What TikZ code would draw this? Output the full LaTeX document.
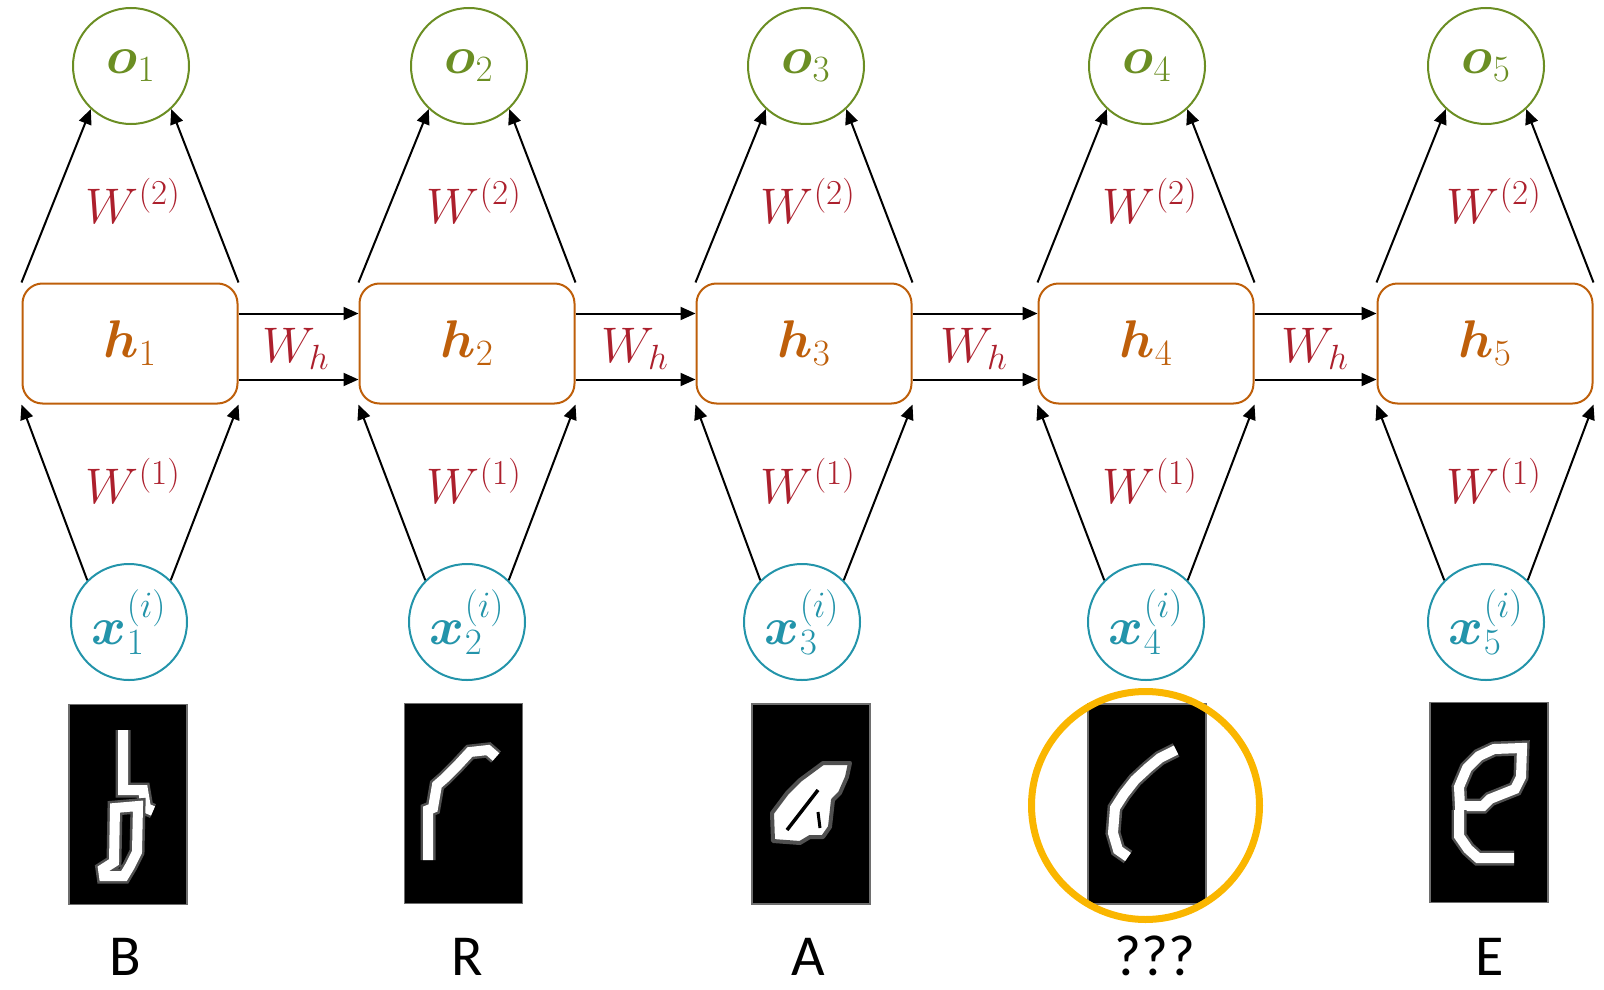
\RequirePackage{fix-cm}
\documentclass[tikz,border=0pt]{standalone}
\usepackage{amsmath}
\usepackage{bm}
\usepackage{fontspec}
\newfontfamily\labelfont{Carlito}
\usetikzlibrary{arrows.meta}

\definecolor{ogreen}{RGB}{107,142,35}
\definecolor{horange}{RGB}{190,95,10}
\definecolor{xteal}{RGB}{35,148,170}
\definecolor{wred}{RGB}{172,32,45}
\definecolor{ringgold}{RGB}{250,182,0}
\definecolor{halogray}{RGB}{80,80,80}
\definecolor{edgegray}{RGB}{110,110,110}

% a handwritten stroke: soft grey edge under a white core
\newcommand\glyphstroke[1]{%
  \draw[glyph halo] #1;
  \draw[glyph core] #1;}

\begin{document}
\begin{tikzpicture}[x=1pt, y=-1pt,
  mathfont/.style={font=\fontsize{53}{60}\selectfont},
  outnode/.style={circle, draw=ogreen, line width=2pt, minimum size=116pt,
    inner sep=0pt, text=ogreen, mathfont},
  hidnode/.style={rectangle, rounded corners=20pt, draw=horange, line width=2pt,
    minimum width=215pt, minimum height=120pt, inner sep=0pt, text=horange, mathfont},
  innode/.style={circle, draw=xteal, line width=2pt, minimum size=116pt,
    inner sep=0pt, text=xteal, mathfont},
  wlabel/.style={text=wred, font=\fontsize{50}{58}\selectfont, anchor=base, inner sep=0pt},
  link/.style={line width=2pt, -{Triangle[length=15pt,width=13pt]}},
  digitbox/.style={rectangle, fill=black, draw=edgegray,
    line width=1.2pt, minimum width=118pt, minimum height=200pt, inner sep=0pt},
  letter/.style={font=\labelfont\fontsize{58}{64}\selectfont, anchor=base, inner sep=0pt},
  glyph halo/.style={draw=halogray, line width=15pt, line join=miter, line cap=square},
  glyph core/.style={draw=white, line width=10pt, line join=miter, line cap=square}]

\useasboundingbox (0,0) rectangle (1604,990);

% the unrolled network, one column per time step
\foreach \i/\ox/\hx/\xx/\wx in {1/131/130/129/133, 2/469/467/467/474,
    3/806/804/802/808, 4/1147/1146/1146/1150, 5/1486/1485/1486/1494} {
  \node[outnode] (o\i) at (\ox,66) {$\bm{o}_{\i}$};
  \node[hidnode] (h\i) at (\hx,343.5) {$\bm{h}_{\i}$};
  \node[innode]  (x\i) at (\xx,622) {$\bm{x}_{\i}^{(i)}$};
  \node[wlabel]  (wtwo\i) at (\wx,223) {$W^{(2)}$};
  \node[wlabel]  (wone\i) at (\wx,503) {$W^{(1)}$};
  \draw[link] (h\i.north west) -- (o\i.227);
  \draw[link] (h\i.north east) -- (o\i.313);
  \draw[link] (x\i.135) -- (h\i.south west);
  \draw[link] (x\i.45)  -- (h\i.south east);
}

% recurrent connections between neighbouring hidden states
\foreach \i/\j/\lx in {1/2/296, 2/3/635, 3/4/974, 4/5/1315} {
  \draw[link] ([yshift=30pt]h\i.east) -- ([yshift=30pt]h\j.west);
  \draw[link] ([yshift=-36pt]h\i.east) -- ([yshift=-36pt]h\j.west);
  \node[wlabel] (wh\i) at (\lx,362) {$W_h$};
}

% handwritten input images
\node[digitbox] (img1) at (128,804.5) {};
\node[digitbox] (img2) at (463.5,803.5) {};
\node[digitbox] (img3) at (811,804) {};
\node[digitbox] (img4) at (1147,804) {};
\node[digitbox] (img5) at (1489,802.5) {};

% letter B
\glyphstroke{(123,730) -- (123,790) -- (143,790) -- (146,808) -- (153,811)}
\glyphstroke{(115,808) -- (138,806) -- (137,852) -- (130,866) -- (124,876) -- (104,876) -- (103,869) -- (114,862) -- cycle}
% letter R
\glyphstroke{(428,860) -- (428,810) -- (433,808) -- (437,785) -- (445,778) -- (457,766) -- (470,752) -- (488,750) -- (496,757)}
% letter A
\filldraw[draw=halogray, fill=white, line width=4pt, line join=round]
  (773,841) -- (772,813) -- (787,793) -- (800,780) -- (823,763) -- (850,763)
  -- (847,777) -- (840,793) -- (833,800) -- (830,827) -- (823,837) -- (810,837)
  -- (800,843) -- cycle;
\draw[black, line width=3.5pt] (787,830) -- (818,790);
\draw[black, line width=3pt] (818,812) -- (820,828);
% the unknown letter
\glyphstroke{(1176,750) -- (1160,758) -- (1148,768) -- (1135,780) -- (1124,794) -- (1115,808) -- (1113,833) -- (1118,850) -- (1128,857)}
% letter E
\glyphstroke{(1460,806) -- (1459,787) -- (1467,768) -- (1479,756) -- (1494,749) -- (1522,748) -- (1521,777) -- (1515,789) -- (1490,799) -- (1483,806) -- cycle}
\glyphstroke{(1459,810) -- (1459,836) -- (1468,849) -- (1478,858) -- (1514,858)}

% highlight around the unknown letter
\draw[ringgold, line width=7pt] (1145.5,805.5) circle[radius=114];

% decoded letters
\node[letter] (lab1) at (125,975) {B};
\node[letter] (lab2) at (467,975) {R};
\node[letter] (lab3) at (808,975) {A};
\node[letter] (lab4) at (1155,975) {???};
\node[letter] (lab5) at (1490,975) {E};
\end{tikzpicture}
\end{document}
